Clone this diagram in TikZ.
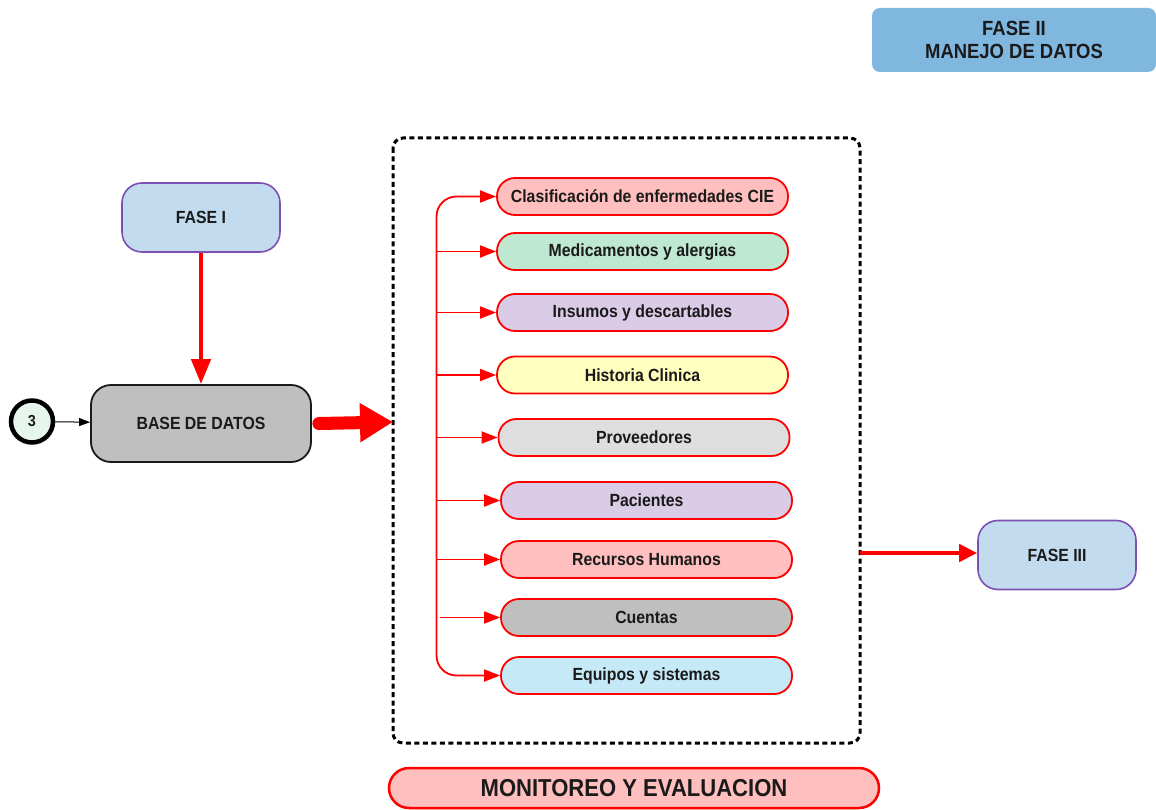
\documentclass[tikz,border=0pt]{standalone}
\usepackage{fontspec}
\setmainfont{Liberation Sans}[FakeStretch=0.9]
\usetikzlibrary{arrows.meta}
\definecolor{ink}{HTML}{1A1A1A}
\definecolor{rosa}{HTML}{FFBFBF}
\definecolor{menta}{HTML}{BFE8D3}
\definecolor{lila}{HTML}{DACBE6}
\definecolor{crema}{HTML}{FFFFC0}
\definecolor{grisclaro}{HTML}{DEDEDE}
\definecolor{gris}{HTML}{BFBFBF}
\definecolor{celeste}{HTML}{C6E9F8}
\definecolor{faseazul}{HTML}{C2DBEE}
\definecolor{fasemorado}{HTML}{7E4FB3}
\definecolor{titulo}{HTML}{80B7DF}
\definecolor{circulo}{HTML}{E6F6EC}
\tikzset{
  txt/.style={font=\fontsize{17.6}{19}\selectfont\bfseries, text=ink, align=center, inner sep=0pt},
  fasebox/.style={txt, draw=fasemorado, line width=1.6pt, fill=faseazul, rounded corners=20pt,
    minimum width=158pt, minimum height=69pt},
  item/.style={txt, draw=red, line width=1.8pt, rounded corners=18pt,
    minimum width=291pt, minimum height=37pt},
  rline/.style={draw=red, line width=1.8pt},
  rtip/.style={-{Triangle[length=16pt,width=12pt]}},
}
\begin{document}
\begin{tikzpicture}[x=1pt,y=-1pt]
\useasboundingbox (0,0) rectangle (1156,810);

% header
\node[txt, fill=titulo, rounded corners=8pt, minimum width=284pt, minimum height=64pt,
  font=\fontsize{20.5}{23}\selectfont\bfseries] (titulo) at (1014,40) {FASE II\\MANEJO DE DATOS};

% left column
\node[fasebox] (f1) at (201,217.5) {FASE I};
\node[txt, draw=ink, line width=1.8pt, fill=gris, rounded corners=20pt,
  minimum width=220pt, minimum height=77pt] (base) at (201,423.5) {BASE DE DATOS};
\node[circle, draw=black, line width=4.5pt, fill=circulo, minimum size=42pt, inner sep=0pt,
  font=\fontsize{16}{18}\selectfont\bfseries, text=ink] (c3) at (32,421.5) {3};

\draw[black, line width=1pt, -{Triangle[length=11pt,width=8pt]}] (c3) -- (base);
\draw[red, line width=4.5pt, -{Triangle[length=25pt,width=19pt]}] (f1) -- (base);

% dashed frame
\draw[black, line width=3pt, dash pattern=on 5pt off 3.5pt, rounded corners=10pt]
  (393,138) rectangle (860,743);
\coordinate (frameL) at (393,422);
\coordinate (frameR) at (860,553);
\draw[red, line width=13pt, line cap=round, -{Triangle[length=33pt,width=37pt]}]
  ([xshift=7pt]base.east) -- (frameL);

% data modules
\node[item, fill=rosa]      (m1) at (642.5,196.5) {Clasificación de enfermedades CIE};
\node[item, fill=menta]     (m2) at (642.5,251.5) {Medicamentos y alergias};
\node[item, fill=lila]      (m3) at (642.5,312.5) {Insumos y descartables};
\node[item, fill=crema]     (m4) at (642.5,375)   {Historia Clinica};
\node[item, fill=grisclaro] (m5) at (644,437.5)   {Proveedores};
\node[item, fill=lila]      (m6) at (646.5,500.5) {Pacientes};
\node[item, fill=rosa]      (m7) at (646.5,559.5) {Recursos Humanos};
\node[item, fill=gris]      (m8) at (646.5,617.5) {Cuentas};
\node[item, fill=celeste]   (m9) at (646.5,675.5) {Equipos y sistemas};

% distribution bus
\coordinate (bus) at (436.5,430);
\draw[rline, {Triangle[length=16pt,width=12pt]}-{Triangle[length=16pt,width=12pt]}, rounded corners=20pt]
  (m1.west) -| (bus) |- (m9.west);
\foreach \m in {m2,m3,m4,m5,m6,m7} {
  \draw[rline, rtip] (bus |- \m.west) -- (\m.west);
}
\draw[rline, rtip] ([xshift=3pt]bus |- m8.west) -- (m8.west);

% output
\node[fasebox] (f3) at (1057,555) {FASE III};
\draw[red, line width=4.5pt, -{Triangle[length=18pt,width=17pt]}] (frameR) -- (f3.west |- frameR);

% footer
\node[txt, draw=red, line width=2.5pt, fill=rosa, rounded corners=20pt,
  minimum width=490pt, minimum height=40pt, font=\fontsize{24.5}{27}\selectfont\bfseries]
  (monitoreo) at (634,788) {MONITOREO Y EVALUACION};
\end{tikzpicture}
\end{document}
